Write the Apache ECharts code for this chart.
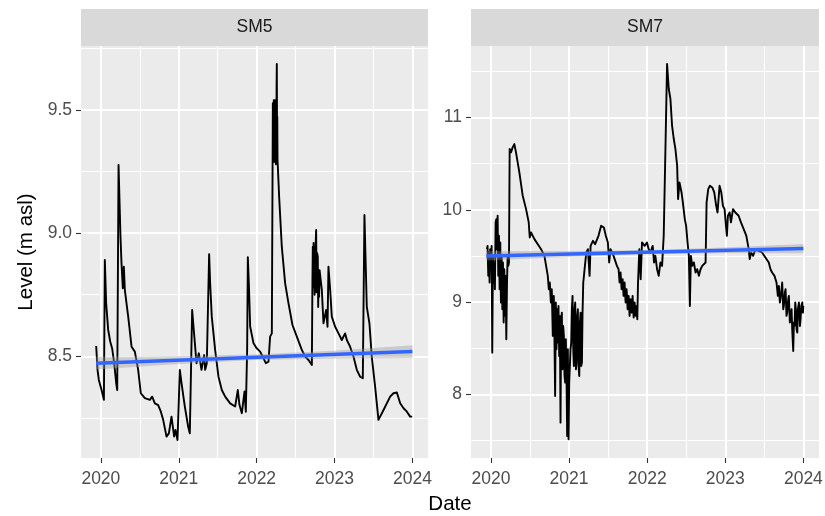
<!DOCTYPE html>
<html><head><meta charset="utf-8">
<script src="https://cdn.jsdelivr.net/npm/echarts@6/dist/echarts.min.js"></script>
<style>html,body{margin:0;padding:0;background:#fff}#c{width:825px;height:516px}</style>
</head><body><div id="c"></div>
<script>
// ---------- data (dates as decimal years) ----------
const panelNames = ['SM5', 'SM7'];
const xTicks = [2020, 2021, 2022, 2023, 2024];
const sm5YTicks = [8.5, 9.0, 9.5];
const sm7YTicks = [8, 9, 10, 11];

const sm5Dates = [2019.940,2019.957,2019.974,2020.009,2020.039,2020.051,2020.068,2020.094,2020.120,2020.145,2020.171,2020.197,2020.210,2020.218,2020.227,2020.240,2020.252,2020.265,2020.282,2020.295,2020.308,2020.351,2020.394,2020.436,2020.479,2020.513,2020.565,2020.629,2020.659,2020.693,2020.736,2020.770,2020.800,2020.843,2020.873,2020.907,2020.941,2020.958,2020.984,2021.014,2021.036,2021.078,2021.121,2021.142,2021.172,2021.207,2021.228,2021.258,2021.292,2021.326,2021.339,2021.360,2021.382,2021.390,2021.403,2021.424,2021.467,2021.510,2021.553,2021.596,2021.660,2021.724,2021.758,2021.780,2021.810,2021.844,2021.861,2021.878,2021.887,2021.900,2021.917,2021.960,2022.002,2022.045,2022.088,2022.118,2022.152,2022.173,2022.195,
  2022.205,2022.208,2022.211,2022.214,2022.217,2022.220,2022.223,2022.226,2022.229,2022.232,2022.235,2022.238,2022.241,2022.244,2022.247,2022.250,2022.253,2022.256,2022.259,2022.262,2022.265,2022.268,2022.272,
  2022.289,2022.323,2022.366,2022.409,2022.460,2022.516,2022.580,2022.623,2022.666,2022.709,
  2022.716,2022.721,2022.726,2022.731,2022.738,2022.744,2022.751,2022.757,2022.764,2022.770,2022.776,2022.785,2022.790,2022.796,2022.802,2022.808,2022.815,
  2022.837,2022.858,2022.892,2022.910,2022.922,2022.944,2022.965,2023.008,2023.051,2023.093,2023.136,2023.158,2023.200,2023.243,2023.286,2023.329,2023.363,2023.384,2023.401,2023.414,2023.448,2023.478,2023.521,2023.564,2023.586,2023.629,2023.671,2023.714,2023.757,2023.800,2023.843,2023.886,2023.929,2023.971,2023.997];
const sm5Levels = [8.542,8.445,8.404,8.363,8.323,8.891,8.715,8.607,8.560,8.532,8.472,8.390,8.363,8.796,9.277,9.270,8.986,8.878,8.776,8.864,8.769,8.661,8.539,8.519,8.445,8.350,8.330,8.323,8.336,8.309,8.302,8.275,8.242,8.174,8.187,8.255,8.174,8.201,8.160,8.445,8.390,8.296,8.214,8.187,8.688,8.553,8.472,8.512,8.445,8.505,8.445,8.472,8.796,8.915,8.796,8.661,8.526,8.417,8.363,8.336,8.309,8.296,8.363,8.302,8.269,8.357,8.275,8.526,8.902,8.796,8.620,8.553,8.532,8.519,8.492,8.472,8.478,8.580,8.593,
  9.300,9.527,9.300,9.530,9.320,9.540,9.290,9.540,9.300,9.530,9.290,9.540,9.300,9.530,9.280,9.520,9.300,9.600,9.687,9.400,9.473,9.300,9.297,
  9.148,8.945,8.796,8.715,8.627,8.580,8.526,8.499,8.485,8.465,
  8.800,8.945,8.780,8.960,8.959,8.750,8.796,8.950,9.013,8.760,8.920,8.905,8.700,8.820,8.742,8.850,8.850,
  8.769,8.634,8.688,8.620,8.864,8.769,8.661,8.620,8.593,8.566,8.593,8.566,8.539,8.499,8.445,8.417,8.411,9.074,8.864,8.702,8.634,8.499,8.377,8.242,8.242,8.282,8.309,8.336,8.350,8.353,8.309,8.289,8.275,8.255,8.255];

const sm7Dates = [2019.949,2019.957,2019.966,2019.974,2019.983,2019.991,2020.000,2020.009,2020.017,2020.026,2020.034,2020.043,2020.051,2020.060,2020.069,2020.077,2020.086,2020.094,2020.103,2020.111,2020.120,2020.128,2020.137,2020.146,2020.154,2020.163,2020.171,2020.180,2020.188,2020.197,2020.206,2020.214,2020.223,2020.231,
  2020.240,2020.257,2020.278,2020.300,2020.321,2020.364,2020.407,2020.450,2020.484,2020.497,2020.514,2020.557,2020.600,2020.642,2020.685,
  2020.728,2020.741,2020.754,2020.767,2020.779,2020.792,2020.805,2020.814,2020.822,2020.831,2020.839,2020.848,2020.857,2020.865,2020.874,2020.882,2020.891,2020.899,2020.908,2020.916,2020.925,2020.934,2020.942,2020.951,2020.959,2020.968,2020.976,2020.985,2020.994,2021.002,2021.011,2021.019,2021.028,2021.036,2021.045,2021.054,2021.062,2021.071,2021.079,2021.088,2021.096,2021.105,2021.113,2021.122,2021.131,2021.139,2021.148,2021.156,2021.165,2021.173,2021.182,2021.191,2021.199,
  2021.221,2021.242,2021.263,2021.276,2021.306,2021.334,2021.377,2021.411,2021.446,2021.471,2021.497,2021.514,2021.531,2021.570,2021.613,
  2021.634,2021.647,2021.660,2021.673,2021.686,2021.698,2021.711,2021.724,2021.737,2021.750,2021.763,2021.775,2021.788,2021.801,2021.814,2021.827,2021.840,2021.853,2021.866,2021.874,2021.883,
  2021.900,2021.917,2021.934,2021.968,2021.998,2022.019,2022.041,2022.071,2022.088,2022.105,2022.127,2022.148,2022.170,2022.191,2022.212,2022.234,2022.255,2022.277,2022.298,2022.319,2022.341,2022.362,2022.384,2022.396,2022.414,2022.440,2022.457,2022.482,2022.499,2022.517,2022.534,2022.547,2022.560,2022.577,2022.598,2022.620,2022.641,2022.662,2022.684,2022.705,2022.727,2022.748,2022.761,2022.782,2022.804,2022.834,2022.859,2022.884,2022.901,2022.927,2022.949,2022.970,2022.991,2023.013,2023.021,2023.034,2023.056,2023.073,2023.099,2023.129,2023.150,2023.171,2023.201,2023.236,2023.270,2023.300,2023.313,2023.330,2023.356,2023.386,2023.429,2023.471,2023.514,2023.557,2023.579,2023.600,2023.630,
  2023.656,2023.673,2023.686,2023.699,2023.707,2023.720,2023.729,2023.742,2023.750,2023.763,2023.772,2023.784,2023.793,2023.806,2023.814,2023.827,2023.836,2023.849,2023.857,2023.870,2023.879,2023.887,2023.896,2023.904,2023.913,2023.922,2023.930,2023.943,2023.956,2023.964,2023.973,2023.986,2023.994,2023.999];
const sm7Levels = [9.573,9.609,9.284,9.537,9.212,9.573,9.392,9.609,8.452,9.501,9.212,9.429,9.139,9.863,9.899,9.573,9.935,9.284,9.718,9.139,9.646,8.995,9.501,8.922,9.429,8.778,9.356,8.850,9.284,8.597,9.212,9.501,9.392,9.429,
  10.658,10.622,10.676,10.712,10.622,10.405,10.152,10.007,9.863,9.700,9.754,9.682,9.627,9.573,9.501,
  9.284,9.139,9.212,8.995,9.139,8.633,9.067,8.561,7.982,8.995,8.488,8.922,8.561,8.958,8.416,8.850,7.693,8.778,8.886,8.271,8.741,8.633,8.199,8.127,8.597,8.163,7.548,8.488,7.512,8.127,8.127,8.488,8.561,8.922,9.067,8.488,8.307,8.922,8.995,8.271,8.344,8.850,8.922,8.307,8.199,8.778,8.886,8.307,8.344,8.886,9.212,9.284,9.356,
  9.537,9.573,9.284,9.609,9.664,9.627,9.718,9.826,9.808,9.718,9.646,9.429,9.573,9.501,9.392,
  9.356,9.212,9.320,9.139,9.248,9.067,9.212,8.995,9.139,8.922,9.067,8.850,9.031,8.886,9.067,8.832,8.995,8.850,8.958,8.814,9.212,
  9.573,9.248,9.646,9.609,9.646,9.573,9.537,9.609,9.429,9.501,9.356,9.284,9.429,9.392,9.718,10.658,11.580,11.309,11.201,10.911,10.767,10.658,10.477,10.116,10.297,10.188,10.080,9.899,9.826,9.646,9.501,8.958,9.501,9.392,9.429,9.320,9.356,9.284,9.356,9.392,9.392,9.429,10.080,10.224,10.260,10.242,10.188,10.043,9.971,10.260,10.188,10.043,10.007,9.790,9.718,9.935,9.971,9.863,10.007,9.971,9.989,9.935,9.863,9.790,9.718,9.573,9.465,9.537,9.501,9.573,9.555,9.537,9.483,9.429,9.356,9.320,9.284,
  9.212,9.067,9.175,8.995,9.031,9.139,9.212,8.922,8.958,9.103,9.139,8.850,8.886,9.031,9.067,8.778,8.850,8.922,8.705,8.470,8.778,8.741,8.995,8.922,8.705,8.669,8.922,8.995,8.741,8.814,8.958,8.995,8.886,8.958];

// linear trend (geom_smooth, method = lm) and its confidence band
const trendDates = [2019.94, 2024.0];
const sm5TrendLevels = [8.472, 8.519];
const sm7TrendLevels = [9.500, 9.580];
const bandDates = [2019.94, 2020.955, 2021.97, 2022.985, 2024.0];
const sm5BandLow  = [8.446, 8.468, 8.485, 8.491, 8.493];
const sm5BandHigh = [8.498, 8.500, 8.507, 8.523, 8.545];
const sm7BandLow  = [9.450, 9.488, 9.518, 9.528, 9.530];
const sm7BandHigh = [9.550, 9.552, 9.562, 9.592, 9.630];

// ---------- layout / style ----------
const FONT = 'Liberation Sans';
const X_MIN = 2019.745, X_MAX = 2024.2;
const Y_RANGES = [[8.087, 9.760], [7.31, 11.775]];
const GRIDS = [{left: 81, top: 46, width: 347, height: 412}, {left: 471, top: 46, width: 348, height: 412}];

function zip(a, b) { return a.map((v, i) => [v, b[i]]); }
function minors(ticks, lo, hi) {
  const step = ticks[1] - ticks[0];
  const out = [];
  for (let i = -1; i < ticks.length; i++) {
    const m = ticks[0] + step * (i + 0.5);
    if (m > lo && m < hi) out.push(+m.toFixed(6));
  }
  return out;
}
const xMinor = minors(xTicks, X_MIN, X_MAX);
const yTickSets = [sm5YTicks, sm7YTicks];
const yFormat = [v => v.toFixed(1), v => String(Math.round(v))];

const xAxes = [], yAxes = [];
GRIDS.forEach((g, gi) => {
  xAxes.push({
    type: 'value', gridIndex: gi, min: X_MIN, max: X_MAX, position: 'bottom',
    axisLine: {show: false},
    axisTick: {show: true, length: 5, lineStyle: {color: '#333333', width: 1.1}, customValues: xTicks},
    axisLabel: {customValues: xTicks, formatter: v => String(Math.round(v)), color: '#4D4D4D',
      fontSize: 17.5, fontFamily: FONT, margin: 12},
    splitLine: {show: true, lineStyle: {color: '#FFFFFF', width: 2}}
  });
  xAxes.push({
    type: 'value', gridIndex: gi, min: X_MIN, max: X_MAX, position: 'top',
    axisLine: {show: false},
    axisTick: {show: false, customValues: xMinor},
    axisLabel: {show: false, customValues: xMinor},
    splitLine: {show: true, lineStyle: {color: '#FFFFFF', width: 1}}
  });
  const yr = Y_RANGES[gi];
  const yt = yTickSets[gi];
  const ym = minors(yt, yr[0], yr[1]);
  const ya = {
    type: 'value', gridIndex: gi, min: yr[0], max: yr[1], position: 'left',
    axisLine: {show: false},
    axisTick: {show: true, length: 5, lineStyle: {color: '#333333', width: 1.1}, customValues: yt},
    axisLabel: {customValues: yt, formatter: yFormat[gi], color: '#4D4D4D',
      fontSize: 17.5, fontFamily: FONT, margin: 9},
    splitLine: {show: true, lineStyle: {color: '#FFFFFF', width: 2}}
  };
  if (gi === 0) {
    ya.name = 'Level (m asl)';
    ya.nameLocation = 'middle';
    ya.nameGap = 44;
    ya.nameTextStyle = {color: '#000000', fontSize: 20.5, fontFamily: FONT};
  }
  yAxes.push(ya);
  yAxes.push({
    type: 'value', gridIndex: gi, min: yr[0], max: yr[1], position: 'right',
    axisLine: {show: false},
    axisTick: {show: false, customValues: ym},
    axisLabel: {show: false, customValues: ym},
    splitLine: {show: true, lineStyle: {color: '#FFFFFF', width: 1}}
  });
});

const panelData = [
  {dates: sm5Dates, levels: sm5Levels, trend: sm5TrendLevels, low: sm5BandLow, high: sm5BandHigh},
  {dates: sm7Dates, levels: sm7Levels, trend: sm7TrendLevels, low: sm7BandLow, high: sm7BandHigh}
];
const series = [];
panelData.forEach((p, gi) => {
  const xi = gi * 2, yi = gi * 2;
  series.push({
    type: 'line', xAxisIndex: xi, yAxisIndex: yi, data: zip(p.dates, p.levels),
    showSymbol: false, symbol: 'none', lineStyle: {color: '#000000', width: 1.9, join: 'round'}, z: 3
  });
  // confidence ribbon drawn as one polygon through the axis scales
  series.push({
    type: 'custom', xAxisIndex: xi, yAxisIndex: yi, silent: true, z: 4,
    data: bandDates.map((d, i) => [d, p.low[i], p.high[i]]),
    encode: {x: 0, y: [1, 2]},
    renderItem: function (params, api) {
      if (params.dataIndex !== 0) return null;
      const pts = [];
      for (let i = 0; i < bandDates.length; i++) pts.push(api.coord([bandDates[i], p.high[i]]));
      for (let i = bandDates.length - 1; i >= 0; i--) pts.push(api.coord([bandDates[i], p.low[i]]));
      return {type: 'polygon', shape: {points: pts}, style: {fill: 'rgba(153,153,153,0.4)'}};
    }
  });
  series.push({
    type: 'line', xAxisIndex: xi, yAxisIndex: yi, data: zip(trendDates, p.trend),
    symbol: 'none', lineStyle: {color: '#3366FF', width: 3.5}, z: 5
  });
});

const graphics = [];
GRIDS.forEach((g, gi) => {
  graphics.push({type: 'rect', shape: {x: g.left, y: 9, width: g.width, height: 37},
    style: {fill: '#D9D9D9'}, silent: true});
  graphics.push({type: 'text', x: g.left + g.width / 2, y: 27.5,
    style: {text: panelNames[gi], fill: '#1A1A1A', font: '17.5px "' + FONT + '"', textAlign: 'center', textVerticalAlign: 'middle'}});
});
graphics.push({type: 'text', x: 450, y: 504.5,
  style: {text: 'Date', fill: '#000000', font: '20.5px "' + FONT + '"', textAlign: 'center', textVerticalAlign: 'middle'}});

const chart = echarts.init(document.getElementById('c'), null, {renderer: 'canvas'});
chart.setOption({
  animation: false,
  backgroundColor: '#FFFFFF',
  grid: GRIDS.map(g => Object.assign({show: true, backgroundColor: '#EBEBEB', borderWidth: 0, containLabel: false, outerBoundsMode: 'none'}, g)),
  xAxis: xAxes,
  yAxis: yAxes,
  series: series,
  graphic: graphics
});
</script>
</body></html>
